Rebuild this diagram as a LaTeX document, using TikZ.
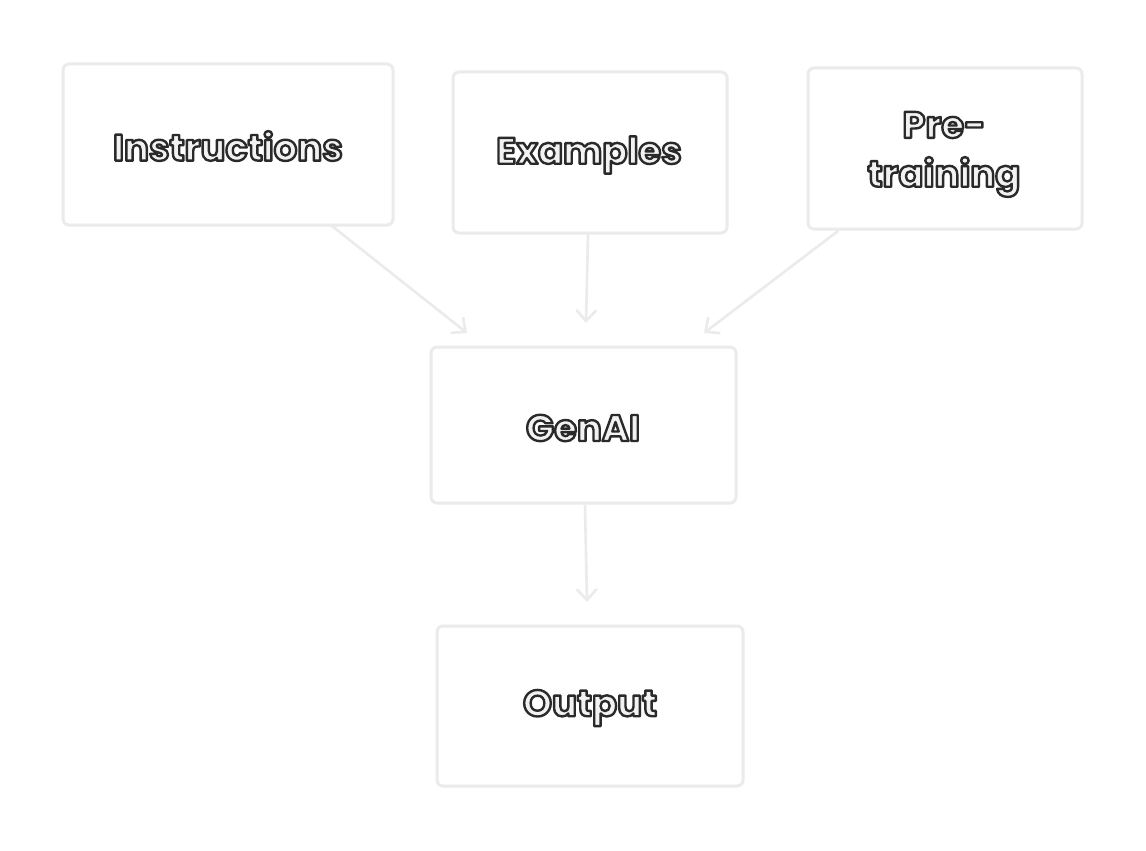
\documentclass[tikz,border=0pt]{standalone}
\usepackage{fontspec}
\setmainfont{Poppins}
\usetikzlibrary{arrows.meta}
\definecolor{boxline}{HTML}{EBEBEB}
\definecolor{txtfill}{HTML}{F2F2F2}
\definecolor{txtline}{HTML}{2A2A2A}
\newcommand{\otext}[1]{\textcolor{txtfill}{\special{pdf:literal direct 2 Tr 2.4 w 1 j 0.165 0.165 0.165 RG}#1\special{pdf:literal direct 0 Tr 1 w 0 j}}}
\tikzset{
  box/.style={draw=boxline, line width=3pt, rounded corners=6pt, fill=white},
  lbl/.style={font=\fontsize{37}{48}\selectfont\bfseries, align=center, inner sep=0pt},
  conn/.style={draw=boxline, line width=2.6pt, -{Straight Barb[length=11pt,width=20pt,line width=2.6pt]}, line cap=round}
}
\begin{document}
\begin{tikzpicture}[x=1pt,y=-1pt]
\useasboundingbox (0,0) rectangle (1146,851);
\fill[white] (0,0) rectangle (1146,851);
\draw[box] (63,64) rectangle (393,225);
\draw[box] (453,72) rectangle (727,233);
\draw[box] (808,68) rectangle (1082,229);
\draw[box] (431,347) rectangle (736,503);
\draw[box] (437,626) rectangle (743,786);
\node[lbl] (instr) at (228,146) {\otext{Instructions}};
\node[lbl] (exam) at (589,155) {\otext{Examples}};
\node[lbl] (pre1) at (944,125) {\otext{Pre-}};
\node[lbl] (pre2) at (944,177) {\otext{training}};
\node[lbl] (gen) at (583,428) {\otext{GenAI}};
\node[lbl] (out) at (590,708) {\otext{Output}};
\coordinate (a1s) at (332,226); \coordinate (a1e) at (467,333);
\coordinate (a2s) at (588,235); \coordinate (a2e) at (586,323);
\coordinate (a3s) at (838,231); \coordinate (a3e) at (704,333);
\coordinate (a4s) at (585,506); \coordinate (a4e) at (587,602);
\draw[conn] (a1s) -- (a1e);
\draw[conn] (a2s) -- (a2e);
\draw[conn] (a3s) -- (a3e);
\draw[conn] (a4s) -- (a4e);
\end{tikzpicture}
\end{document}
